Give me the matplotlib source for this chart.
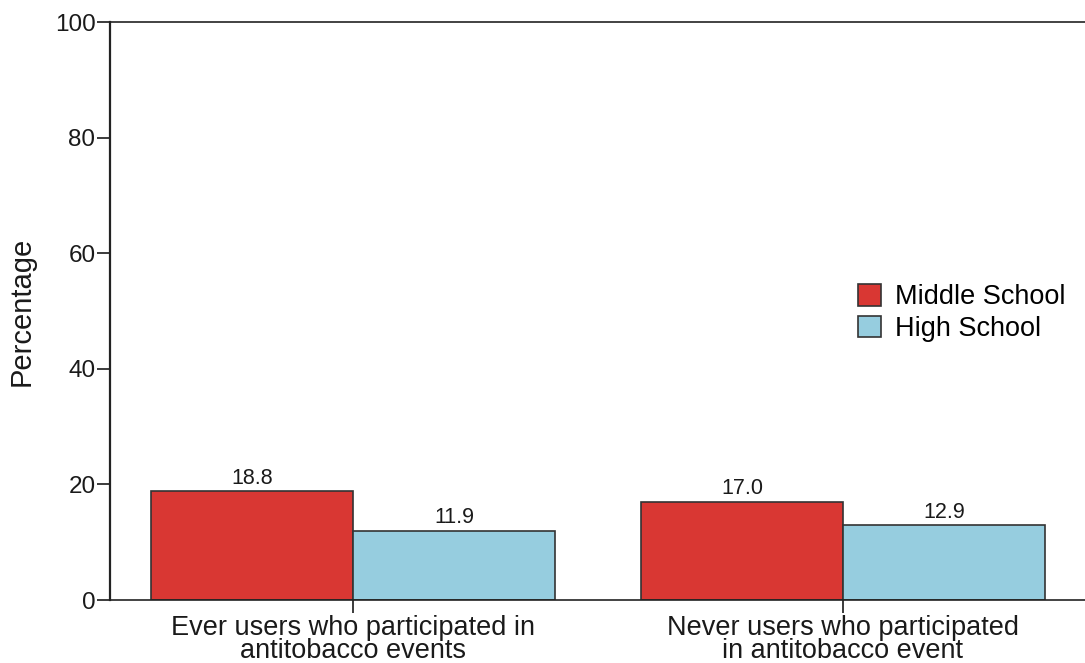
"""Bar chart: participation in antitobacco events by school level."""

import matplotlib.pyplot as plt
import numpy as np

plt.rcParams['font.family'] = ['Liberation Sans', 'DejaVu Sans']

# Data
categories = ["Ever users who participated in\nantitobacco events",
              "Never users who participated\nin antitobacco event"]
middle_school = [18.8, 17.0]
high_school = [11.9, 12.9]
series_names = ["Middle School", "High School"]

x = np.arange(len(categories))
width = 0.412

fig = plt.figure(figsize=(10.85, 6.63), dpi=100)
ax = fig.add_axes([0.1014, 0.095, 0.8986, 0.8718])

b1 = ax.bar(x - width / 2, middle_school, width, color='#d93733',
            edgecolor='#333333', linewidth=1.2, label=series_names[0])
b2 = ax.bar(x + width / 2, high_school, width, color='#96cddf',
            edgecolor='#333333', linewidth=1.2, label=series_names[1])

ax.bar_label(b1, fmt='%.1f', padding=2, fontsize=15.5, color='#1a1a1a')
ax.bar_label(b2, fmt='%.1f', padding=2, fontsize=15.5, color='#1a1a1a')

ax.set_xlim(-0.496, 1.494)
ax.set_ylim(0, 100)
ax.set_yticks([0, 20, 40, 60, 80, 100])
ax.set_xticks(x)
ax.set_xticklabels(categories, fontsize=19.5, linespacing=0.86)
ax.tick_params(axis='y', labelsize=17.5, length=9.5, width=1.2, pad=1,
               colors='#1a1a1a')
ax.tick_params(axis='x', length=9, width=1.2, pad=1.5, colors='#1a1a1a')
ax.set_ylabel("Percentage", fontsize=21, color='#1a1a1a', labelpad=14)

ax.spines['right'].set_visible(False)
for side in ['left', 'top', 'bottom']:
    ax.spines[side].set_color('#222222')
ax.spines['left'].set_linewidth(1.6)
ax.spines['top'].set_linewidth(1.2)
ax.spines['bottom'].set_linewidth(1.2)

ax.legend(loc='center left', bbox_to_anchor=(858 / 1085, 1 - 313 / 663),
          bbox_transform=fig.transFigure, frameon=False, fontsize=19.5,
          handlelength=0.85, handleheight=0.85, handletextpad=0.5,
          labelspacing=0.2, borderpad=0, borderaxespad=0)

fig.savefig("out.png", dpi=100)
